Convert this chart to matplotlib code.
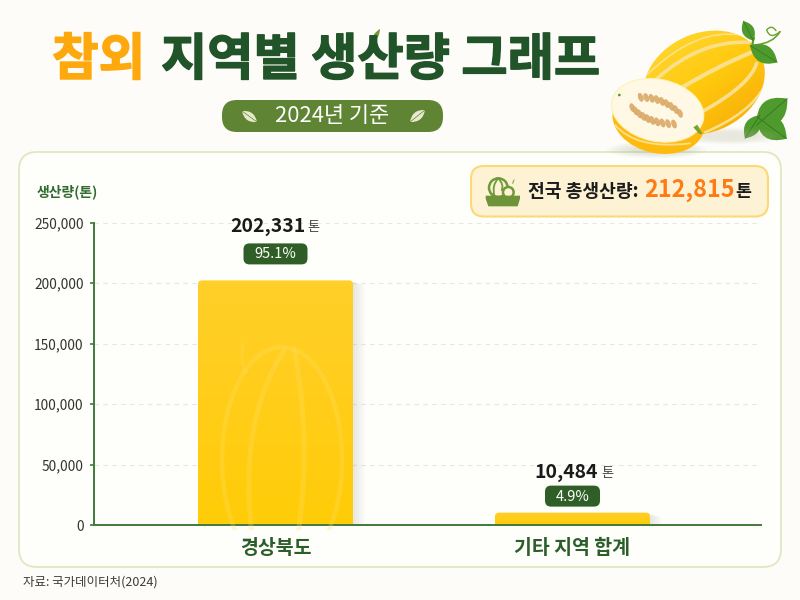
import numpy as np
import matplotlib
matplotlib.use("Agg")
import matplotlib.pyplot as plt
from matplotlib.patches import FancyBboxPatch, Ellipse, PathPatch, Polygon, Circle
from matplotlib.path import Path
from matplotlib.colors import LinearSegmentedColormap
from matplotlib.transforms import IdentityTransform
from matplotlib import patheffects as pe

plt.rcParams['font.family'] = ['Noto Sans CJK KR', 'DejaVu Sans']

categories = ["경상북도", "기타 지역 합계"]
values = [202331, 10484]
shares = ["95.1%", "4.9%"]
yticks = [0, 50000, 100000, 150000, 200000, 250000]
total = "212,815"

BG = "#fdfcf8"
DARK_GREEN = "#22542a"
W, H = 800, 600

fig = plt.figure(figsize=(8, 6), dpi=100, facecolor=BG)


def region(x, y, w, h, xlim, ylim, z):
    a = fig.add_axes([x / W, 1 - (y + h) / H, w / W, h / H], zorder=z)
    a.set_xlim(*xlim)
    a.set_ylim(*ylim)
    a.axis("off")
    a.patch.set_alpha(0)
    return a


def curve(a, pts, color, lw, alpha=1, **kw):
    # pts: start, control, end, (control, end ...)
    codes = [Path.MOVETO] + [Path.CURVE3] * (len(pts) - 1)
    p = PathPatch(Path(pts, codes), fc="none", ec=color, lw=lw, alpha=alpha, capstyle="round", **kw)
    a.add_patch(p)
    return p


def leaf(a, tip, base, bulge, fc, vein=None, lw=0.8, z=2):
    tip, base = np.array(tip, float), np.array(base, float)
    d = tip - base
    n = np.array([-d[1], d[0]]) * bulge
    mid = (tip + base) / 2
    pts = [base, mid + n, tip, mid - n, base]
    codes = [Path.MOVETO, Path.CURVE3, Path.CURVE3, Path.CURVE3, Path.CURVE3]
    a.add_patch(PathPatch(Path(pts, codes), fc=fc, ec="none", zorder=z))
    if vein:
        a.plot([base[0], tip[0]], [base[1], tip[1]], color=vein, lw=lw, solid_capstyle="round", zorder=z + 0.01)


# page background, card, pills
bg = region(0, 0, W, H, (0, W), (H, 0), 0)
bg.add_patch(FancyBboxPatch((19, 152), 762, 415, boxstyle="round,pad=0,rounding_size=18",
                            fc="#fefefb", ec="#dfe8c0", lw=1.3))
bg.add_patch(FancyBboxPatch((222, 100), 221, 32, boxstyle="round,pad=0,rounding_size=15",
                            fc="#5e8434", ec="none"))
leaf(bg, (242, 111), (257, 122), 0.45, "#e6e9cb", "#5e8434", 0.5)
leaf(bg, (425, 110), (410, 122), 0.45, "#e6e9cb", "#5e8434", 0.5)
bg.text(332.5, 115.5, "2024년 기준", color="white", fontsize=15.8, ha="center", va="center", weight="medium")

bg.text(52, 60.5, "참외", color="#fda90d", fontsize=36.5, weight="bold", va="center", ha="left",
        path_effects=[pe.withStroke(linewidth=1.0, foreground="#fda90d")])
bg.text(161, 60.5, "지역별 생산량 그래프", color=DARK_GREEN, fontsize=36.2, weight="bold", va="center", ha="left",
        path_effects=[pe.withStroke(linewidth=1.0, foreground=DARK_GREEN)])
leaf(bg, (380, 29), (371, 44), 0.28, "#6f9a3a")

# total box
bg.add_patch(FancyBboxPatch((471, 166), 297, 50.5, boxstyle="round,pad=0,rounding_size=13",
                            fc="#fdf3d4", ec="#fbd977", lw=1.5))
bg.text(527.5, 191.5, "전국 총생산량:", color="#1c1c1c", fontsize=13.1, weight="bold", va="center", ha="left")
bg.text(644, 190.5, total, color="#ff7a12", fontsize=16.8, weight="bold", va="center", ha="left")
bg.text(735, 191.5, "톤", color="#1c1c1c", fontsize=12.5, weight="bold", va="center", ha="left")

bg.text(37, 192, "생산량(톤)", color="#2f6b2f", fontsize=10, weight="bold", va="center", ha="left")
bg.text(23, 582, "자료: 국가데이터처(2024)", color="#3c3c3c", fontsize=9, va="center", ha="left")

# basket icon
ic = region(475, 165, 60, 50, (0, 180), (150, 0), 1)
ic.add_patch(Circle((70, 68), 28, fc="none", ec="#6f9a3a", lw=1.8))
curve(ic, [(70, 40), (50, 60), (58, 92)], "#6f9a3a", 1.3)
curve(ic, [(70, 40), (88, 60), (80, 75)], "#6f9a3a", 1.3)
ic.add_patch(Circle((100, 82), 16, fc="#fdf3d4", ec="#6f9a3a", lw=1.8))
leaf(ic, (118, 42), (112, 58), 0.3, "#8fae5a")
ic.add_patch(Polygon([(32, 92), (135, 92), (135, 101), (128, 124), (40, 124), (32, 101)], fc="#6f9339", ec="none", zorder=3))

# chart
ax = fig.add_axes([94 / W, 1 - 525.3 / H, (761 - 94) / W, (525.3 - 222.7) / H], zorder=2)
ax.patch.set_alpha(0)
xs = np.arange(len(categories))
bar_w = 155 / 297
bars = ax.bar(xs, values, width=bar_w, color="none", zorder=2)
ylo, yhi = 0, 250000
xlo, xhi = (94 - 275.5) / 297, (761 - 275.5) / 297
aspect = (250000 / 302.6) * 297
r = 4 / 297
grad = LinearSegmentedColormap.from_list("bar", ["#ffcf2a", "#ffcc08"])
bar_patches = []
for b in bars:
    bx, bw, bh = b.get_x(), b.get_width(), b.get_height()
    for k in range(1, 7):
        ax.add_patch(FancyBboxPatch((bx + k / 297, -2000), bw + k / 297, bh + 2000 - 500 * k,
                                    boxstyle=f"round,pad=0,rounding_size={r}", mutation_aspect=aspect,
                                    fc="#555548", ec="none", alpha=0.018, zorder=1.5))
    p = FancyBboxPatch((bx, -4000), bw, bh + 4000, boxstyle=f"round,pad=0,rounding_size={r}",
                       mutation_aspect=aspect, fc="none", ec="none", zorder=2)
    ax.add_patch(p)
    im = ax.imshow(np.linspace(0, 1, 64)[:, None], extent=(bx, bx + bw, 0, bh), origin="upper",
                   aspect="auto", cmap=grad, zorder=2)
    im.set_clip_path(p)
    bar_patches.append(p)

ax.set_xlim(xlo, xhi)
ax.set_ylim(ylo, yhi)
ax.set_yticks(yticks)
ax.set_yticklabels([f"{v:,}" for v in yticks], fontsize=9.9, color="#333333")
ax.set_xticks(xs)
ax.set_xticklabels(categories, fontsize=14, weight="bold", color="#2c5e2a")
ax.tick_params(axis="y", length=3, width=1.2, color="#3f7a3a", pad=4.5)
ax.tick_params(axis="x", length=0, pad=10)
for s in ["top", "right"]:
    ax.spines[s].set_visible(False)
for s in ["left", "bottom"]:
    ax.spines[s].set_color("#3f7a3a")
    ax.spines[s].set_linewidth(1.4)
ax.yaxis.grid(True, color="#e7e7de", lw=0.8, ls=(0, (4, 4)))
ax.set_axisbelow(True)

# value labels and share pills
value_off = [54, 40]
pill_off = [16, 6]
pill_w = [64, 55]
num_dx = [-8, -6]
unit_dx = [38, 35]
fig.canvas.draw()
for i, v in enumerate(values):
    px, py = ax.transData.transform((xs[i], v))
    fig.text(px + num_dx[i], py + value_off[i], f"{v:,}", transform=IdentityTransform(), fontsize=13.9,
             weight="bold", color="#1a1a1a", ha="center", va="center", zorder=5)
    fig.text(px + unit_dx[i], py + value_off[i] - 1, "톤", transform=IdentityTransform(), fontsize=9.5,
             color="#444444", ha="center", va="center", zorder=5)
    pill = FancyBboxPatch((px - pill_w[i] / 2, py + pill_off[i]), pill_w[i], 21,
                          boxstyle="round,pad=0,rounding_size=6", fc="#2f5f27", ec="none",
                          transform=IdentityTransform(), zorder=4)
    fig.add_artist(pill)
    fig.text(px, py + pill_off[i] + 10, shares[i], transform=IdentityTransform(), fontsize=10.5, color="white",
             ha="center", va="center", zorder=5)

# faint melon drawn on the big bar
deco = region(0, 0, W, H, (0, W), (H, 0), 3)
rib = "#ffe066"
e = Ellipse((282, 460), 120, 226, fc="none", ec=rib, lw=3.2, alpha=0.28)
deco.add_patch(e)
e.set_clip_path(bar_patches[0])
for pts in [[(285, 349), (238, 420), (252, 535)], [(294, 349), (312, 440), (298, 535)]]:
    c = curve(deco, pts, rib, 3.6, alpha=0.28)
    c.set_clip_path(bar_patches[0])
c = curve(deco, [(243, 345), (240, 360), (246, 372)], rib, 3, alpha=0.2)
c.set_clip_path(bar_patches[0])

# melon illustration, coordinates in a 3x grid of its box
mel = region(600, 10, 200, 150, (0, 600), (450, 0), 4)
for k in range(6):
    mel.add_patch(Ellipse((390, 378), 320 - 30 * k, 50 - 5 * k, fc="#b9bda4", ec="none", alpha=0.05))
    mel.add_patch(Ellipse((170, 420), 300 - 30 * k, 50 - 6 * k, fc="#9fa88a", ec="none", alpha=0.05))

body = Ellipse((312, 218), 378, 296, angle=-25, fc="none", ec="none")
mel.add_patch(body)
gx, gy = np.meshgrid(np.linspace(0, 1, 120), np.linspace(0, 1, 120))
melon_map = LinearSegmentedColormap.from_list("melon", ["#ffdb3a", "#ffc90e", "#f6a609"])
im = mel.imshow(gx * 0.45 + gy * 0.55, extent=(120, 500, 380, 55), aspect="auto", cmap=melon_map, zorder=1)
im.set_clip_path(body)
mel.set_xlim(0, 600)
mel.set_ylim(450, 0)
for pts, w in [([(425, 76), (290, 50), (140, 195)], 1.2),
               ([(445, 97), (300, 90), (172, 205)], 2.6),
               ([(452, 128), (350, 170), (245, 233)], 3.0),
               ([(470, 160), (450, 225), (310, 303)], 2.6),
               ([(492, 230), (450, 310), (315, 367)], 1.8)]:
    c = curve(mel, pts, "#fbe08c", w, zorder=2)
    c.set_clip_path(body)

# leaves and tendril
GREEN, VEIN = "#4f9a2c", "#2f6f1e"
curve(mel, [(458, 115), (455, 100), (462, 84)], "#5f9a2f", 1.6, zorder=2)
curve(mel, [(465, 105), (520, 100), (540, 65)], "#6aa533", 1.2, zorder=2)
curve(mel, [(540, 65), (510, 90), (500, 60), (515, 42), (528, 62)], "#6aa533", 1.0, zorder=2)
leaf(mel, (430, 33), (460, 92), 0.55, GREEN, VEIN, 0.4)
leaf(mel, (532, 157), (450, 106), 0.55, GREEN, VEIN, 0.4)
leaf(mel, (562, 266), (470, 345), 0.62, GREEN, VEIN, 0.5, z=0.8)
leaf(mel, (560, 386), (470, 320), 0.62, GREEN, VEIN, 0.5, z=0.8)
leaf(mel, (435, 385), (480, 315), 0.55, GREEN, VEIN, 0.5, z=0.8)

# cut half
rind = Ellipse((176, 330), 280, 200, angle=12, fc="#fdbb10", ec="none", zorder=3)
mel.add_patch(rind)
curve(mel, [(45, 345), (110, 420), (270, 400)], "#fbe08c", 1.3, zorder=3.2).set_clip_path(rind)
mel.add_patch(Ellipse((173, 301), 280, 186, angle=12, fc="#fef8e4", ec="#fff1b8", lw=0.8, zorder=3.5))
for start, ctrl, end, n in [((122, 262), (190, 262), (240, 310), 9), ((97, 293), (140, 340), (222, 342), 10)]:
    for t in np.linspace(0, 1, n):
        sx = (1 - t) ** 2 * start[0] + 2 * t * (1 - t) * ctrl[0] + t ** 2 * end[0]
        sy = (1 - t) ** 2 * start[1] + 2 * t * (1 - t) * ctrl[1] + t ** 2 * end[1]
        mel.add_patch(Ellipse((sx, sy), 14, 26, angle=-20, fc="#dfb070", ec="#c39450", lw=0.2, zorder=4))
mel.add_patch(Polygon([(280, 352), (292, 344), (308, 372), (298, 372)], fc="#7aa332", ec="none", zorder=4))
mel.add_patch(Circle((58, 255), 4, fc="#4f9a2c", ec="none", zorder=4))

fig.savefig("out.png", dpi=100, facecolor=BG)
